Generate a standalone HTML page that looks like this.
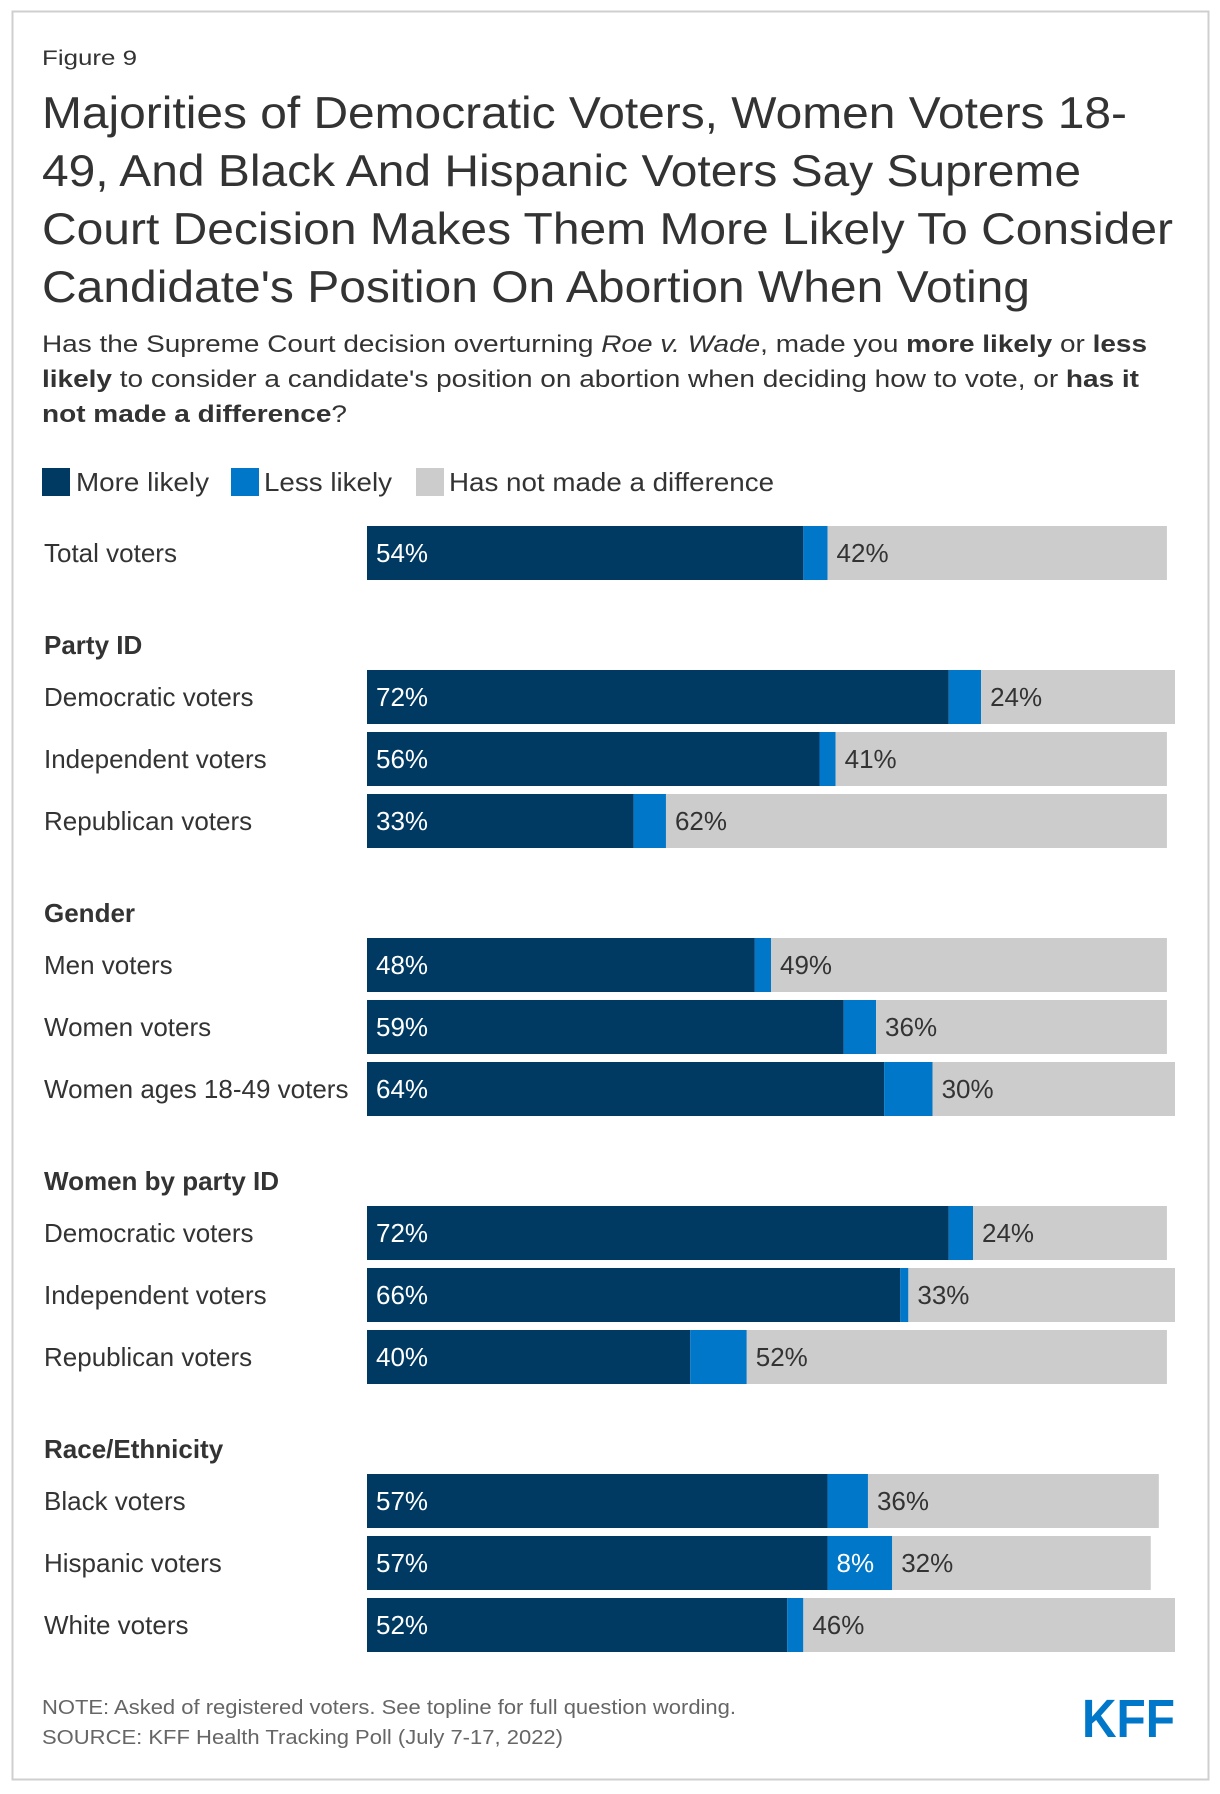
<!DOCTYPE html>
<html><head><meta charset="utf-8"><style>
html,body{margin:0;padding:0;background:#fff;}
svg{display:block;font-family:"Liberation Sans",Arial,sans-serif;}
</style></head><body>
<svg id="chart" width="1220" height="1794" viewBox="0 0 1220 1794" xmlns="http://www.w3.org/2000/svg">
<rect x="12.5" y="11.5" width="1196" height="1768" fill="#fff" stroke="#cfcfcf" stroke-width="2"/>
<text x="42" y="65" font-size="21" fill="#333" textLength="95" lengthAdjust="spacingAndGlyphs">Figure 9</text>
<g font-size="44.5" fill="#333" lengthAdjust="spacingAndGlyphs">
<text x="42" y="128" textLength="1085" lengthAdjust="spacingAndGlyphs">Majorities of Democratic Voters, Women Voters 18-</text>
<text x="42" y="186" textLength="1039" lengthAdjust="spacingAndGlyphs">49, And Black And Hispanic Voters Say Supreme</text>
<text x="42" y="244" textLength="1131" lengthAdjust="spacingAndGlyphs">Court Decision Makes Them More Likely To Consider</text>
<text x="42" y="302" textLength="988" lengthAdjust="spacingAndGlyphs">Candidate's Position On Abortion When Voting</text>
</g>
<g font-size="24.5" fill="#333">
<text x="42" y="352" textLength="1105" lengthAdjust="spacingAndGlyphs">Has the Supreme Court decision overturning <tspan font-style="italic">Roe v. Wade</tspan>, made you <tspan font-weight="bold">more likely</tspan> or <tspan font-weight="bold">less</tspan></text>
<text x="42" y="387" textLength="1097" lengthAdjust="spacingAndGlyphs"><tspan font-weight="bold">likely</tspan> to consider a candidate's position on abortion when deciding how to vote, or <tspan font-weight="bold">has it</tspan></text>
<text x="42" y="422" textLength="305" lengthAdjust="spacingAndGlyphs"><tspan font-weight="bold">not made a difference</tspan>?</text>
</g>
<g font-size="26" fill="#333">
<rect x="42" y="468" width="28" height="28" fill="#003a63"/>
<text x="76" y="491" textLength="133" lengthAdjust="spacingAndGlyphs">More likely</text>
<rect x="231" y="468" width="28" height="28" fill="#0077c8"/>
<text x="264" y="491" textLength="128" lengthAdjust="spacingAndGlyphs">Less likely</text>
<rect x="416" y="468" width="28" height="28" fill="#cccccc"/>
<text x="449" y="491" textLength="325" lengthAdjust="spacingAndGlyphs">Has not made a difference</text>
</g>
<g id="bars"></g>
<g font-size="20.5" fill="#666">
<text x="42" y="1714" textLength="694" lengthAdjust="spacingAndGlyphs">NOTE: Asked of registered voters. See topline for full question wording.</text>
<text x="42" y="1744" textLength="521" lengthAdjust="spacingAndGlyphs">SOURCE: KFF Health Tracking Poll (July 7-17, 2022)</text>
</g>
<text x="1082" y="1737" font-size="54" font-weight="bold" fill="#0077c8" textLength="93" lengthAdjust="spacingAndGlyphs">KFF</text>
</svg>
<script>
const categories = ["Total voters","Democratic voters","Independent voters","Republican voters","Men voters","Women voters","Women ages 18-49 voters","Democratic voters","Independent voters","Republican voters","Black voters","Hispanic voters","White voters"];
const groupOf = [0,1,1,1,2,2,2,3,3,3,4,4,4];
const groupHeaders = ["","Party ID","Gender","Women by party ID","Race/Ethnicity"];
const moreLikely = [54,72,56,33,48,59,64,72,66,40,57,57,52];
const lessLikely = [3,4,2,4,2,4,6,3,1,7,5,8,2];
const noDifference = [42,24,41,62,49,36,30,24,33,52,36,32,46];

const NS = "http://www.w3.org/2000/svg";
const g = document.getElementById('bars');
const x0 = 367, pxPer = 8.08, barH = 54, rowStep = 62, groupGap = 82, firstTop = 526;
function xScale(v){ return x0 + v*pxPer; }
function rowTop(i){ return firstTop + i*rowStep + groupOf[i]*groupGap; }
function mk(tag, attrs){ const e=document.createElementNS(NS,tag); for(const k in attrs) e.setAttribute(k,attrs[k]); g.appendChild(e); return e; }

let lastGroup = 0;
categories.forEach((c,i)=>{
  const top = rowTop(i);
  if (groupOf[i] !== lastGroup) {
    lastGroup = groupOf[i];
    const h = mk('text',{x:44,y:top-16,'font-size':26,'font-weight':'bold',fill:'#333'});
    
    
    h.textContent = groupHeaders[groupOf[i]];
  }
  const lab = mk('text',{x:44,y:top+36,'font-size':26,fill:'#333'});
  
  
  lab.textContent = c;
  const a = moreLikely[i], b = lessLikely[i], d = noDifference[i];
  const r1 = mk('rect',{x:xScale(0),y:top,width:xScale(a)-xScale(0),height:barH,fill:'#003a63'});
  
  
  const r2 = mk('rect',{x:xScale(a),y:top,width:xScale(a+b)-xScale(a),height:barH,fill:'#0077c8'});
  
  
  const r3 = mk('rect',{x:xScale(a+b),y:top,width:xScale(a+b+d)-xScale(a+b),height:barH,fill:'#cccccc'});
  
  
  const t1 = mk('text',{x:xScale(0)+9,y:top+36,'font-size':26,fill:'#fff'});
  
  
  t1.textContent = a+'%';
  if (b >= 8) {
    const t2 = mk('text',{x:xScale(a)+9,y:top+36,'font-size':26,fill:'#fff'});
    
    
    t2.textContent = b+'%';
  }
  const t3 = mk('text',{x:xScale(a+b)+9,y:top+36,'font-size':26,fill:'#333'});
  
  
  t3.textContent = d+'%';
});
</script>
</body></html>
